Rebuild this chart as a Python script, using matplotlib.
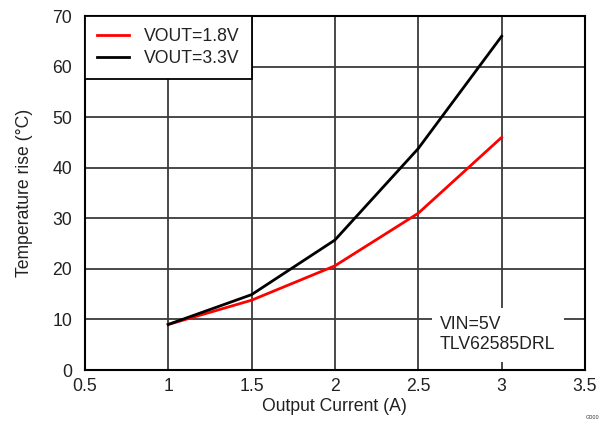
import numpy as np
import matplotlib.pyplot as plt

plt.rcParams['font.family'] = ['Liberation Sans', 'DejaVu Sans']

current = [1.0, 1.5, 2.0, 2.5, 3.0]
temp_18 = [9.0, 13.8, 20.6, 31.0, 46.0]
temp_33 = [9.0, 14.9, 25.7, 43.8, 66.0]

xticks = [0.5, 1, 1.5, 2, 2.5, 3, 3.5]
xtick_labels = ["0.5", "1", "1.5", "2", "2.5", "3", "3.5"]
yticks = np.arange(0, 71, 10)

fs = 12.7
txt = "#222222"

fig = plt.figure(figsize=(6.1, 4.28), dpi=100)
ax = fig.add_axes([0.139, 0.1355, 0.820, 0.827])

ax.plot(current, temp_18, color="red", lw=2, label="VOUT=1.8V", zorder=3)
ax.plot(current, temp_33, color="black", lw=2, label="VOUT=3.3V", zorder=3)

ax.set_xlim(0.5, 3.5)
ax.set_ylim(0, 70)
ax.set_xticks(xticks)
ax.set_xticklabels(xtick_labels)
ax.set_yticks(yticks)
ax.tick_params(length=0, labelsize=fs, colors=txt)
ax.tick_params(axis="y", pad=9)
ax.tick_params(axis="x", pad=6)
ax.grid(True, color="#3a3a3a", lw=1.3)
ax.set_axisbelow(True)
for s in ax.spines.values():
    s.set_linewidth(1.5)
    s.set_color("black")

ax.set_xlabel("Output Current (A)", fontsize=fs, color=txt, labelpad=2)
ax.set_ylabel("Temperature rise (°C)", fontsize=fs, color=txt, labelpad=14)

leg = ax.legend(loc="upper left", fontsize=fs, frameon=True, fancybox=False,
                borderaxespad=0, handlelength=1.8, handletextpad=0.85,
                labelspacing=0.25, borderpad=0.7, framealpha=1)
leg.get_frame().set_edgecolor("black")
leg.get_frame().set_linewidth(1.3)
for t in leg.get_texts():
    t.set_color(txt)

ax.text(2.63, 7.0, "VIN=5V\nTLV62585DRL", fontsize=fs, color=txt,
        va="center", ha="left", linespacing=1.25, zorder=2,
        bbox=dict(facecolor="white", edgecolor="none", pad=6))

fig.text(0.972, 0.022, "G000", fontsize=4, color="#333333", ha="center")

fig.savefig("out.png", dpi=100)
